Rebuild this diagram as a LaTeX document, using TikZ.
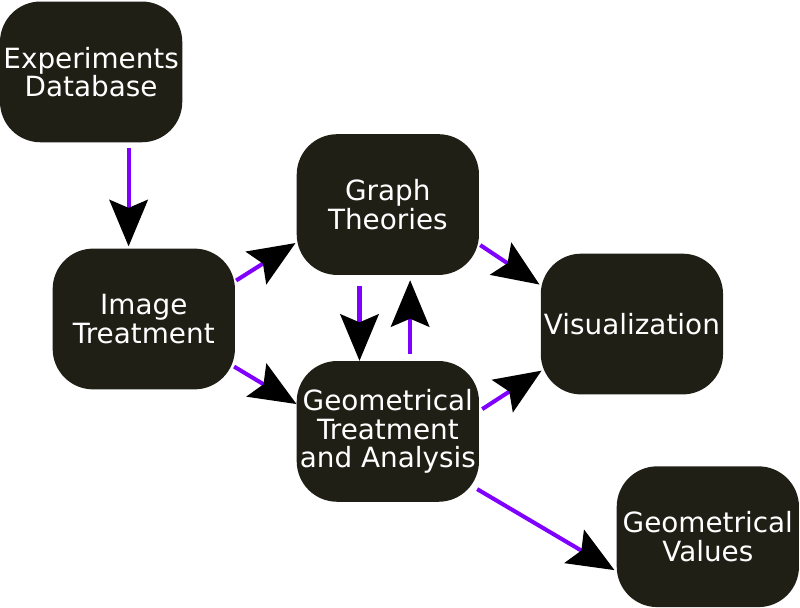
\documentclass[tikz,border=0pt]{standalone}
\usepackage{fontspec}
\setmainfont{DejaVu Sans}
\usetikzlibrary{arrows.meta,calc}
\definecolor{boxfill}{RGB}{32,31,22}
\definecolor{linkpurple}{RGB}{127,0,255}
\begin{document}
\begin{tikzpicture}[x=1pt,y=-1pt,
 box/.style={fill=boxfill, rounded corners=40pt, minimum width=180pt, minimum height=139pt, text=white, align=center, font=\fontsize{27.5}{28}\selectfont, inner sep=0pt},
 link/.style={draw=linkpurple, line width=4pt, -{Stealth[black, length=46pt, width=38pt, inset=8pt]}}]
\useasboundingbox (0,0) rectangle (790,600);
\node[box] (exp) at (90,71) {Experiments\\Database};
\node[box] (img) at (142,315) {Image\\Treatment};
\node[box] (graph) at (383,202) {Graph\\Theories};
\node[box] (vis) at (624,320) {Visualization};
\node[box] (geo) at (383,426) {Geometrical\\Treatment\\and Analysis};
\node[box] (val) at (699,530) {Geometrical\\Values};
\draw[link] ($(exp.south)+(37,5)$) -- ($(img.north)+(-15,-2)$);
\draw[link] ($(img.east)+(1,-38)$) -- ($(graph.west)+(-1,38)$);
\draw[link] ($(img.east)+(-1,47)$) -- ($(geo.west)+(0,-27)$);
\draw[link] ($(graph.south)+(-28,11)$) -- ($(geo.north)+(-28,0)$);
\draw[link] ($(geo.north)+(22,-7)$) -- ($(graph.south)+(22,5)$);
\draw[link] ($(graph.east)+(1,40)$) -- ($(vis.west)+(-1,-39)$);
\draw[link] ($(geo.east)+(3,-22)$) -- ($(vis.west)+(1,46)$);
\draw[link] ($(geo.east)+(-2,57)$) -- ($(val.west)+(-2,33)$);
\end{tikzpicture}
\end{document}
